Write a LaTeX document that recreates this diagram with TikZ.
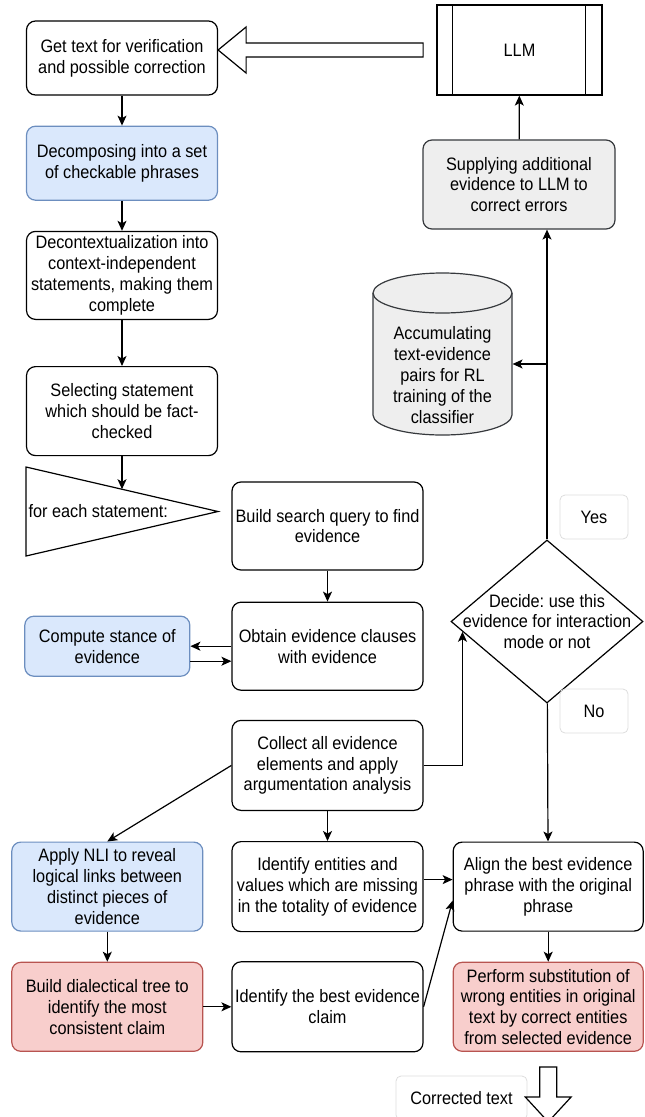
\documentclass[tikz,border=0pt]{standalone}
\usepackage{fontspec}
\setmainfont{Liberation Sans}[FakeStretch=0.905]
\frenchspacing
\usetikzlibrary{arrows.meta,positioning,calc,shapes.geometric}
\definecolor{softblue}{HTML}{DAE8FC}
\definecolor{blueline}{HTML}{6C8EBF}
\definecolor{softred}{HTML}{F8CECC}
\definecolor{redline}{HTML}{B85450}
\definecolor{softgray}{HTML}{EEEEEE}
\definecolor{grayline}{HTML}{36393D}
\definecolor{faintline}{HTML}{DDDDDD}

\begin{document}
\begin{tikzpicture}[
    x=1pt, y=-1pt,
    line width=1.2pt,
    every node/.style={font=\fontsize{18}{20.8}\selectfont, inner sep=2pt},
    box/.style={draw, rounded corners=9pt, align=center, minimum width=191pt, minimum height=89pt},
    bluebox/.style={box, fill=softblue, draw=blueline},
    redbox/.style={box, fill=softred, draw=redline},
    tag/.style={draw=faintline, rounded corners=5pt, line width=0.8pt, minimum width=68pt, minimum height=44pt},
    arr/.style={-{Stealth[length=10pt,width=9pt,inset=2.5pt]}},
    hollow/.style={draw, fill=white, line join=miter}
  ]
    \path[use as bounding box, clip] (0,0) rectangle (645,1117);

    % left column
    \node[box, minimum height=74pt] (get) at (122,58) {Get text for verification\\and possible correction};
    \node[bluebox, minimum height=74pt, below=30pt of get] (decomp) {Decomposing into a set\\of checkable phrases};
    \node[box, minimum height=88pt, below=30pt of decomp] (decontext) {Decontextualization into\\context-independent\\statements, making them\\complete};
    \node[box, below=46pt of decontext] (select) {Selecting statement\\which should be fact-\\checked};

    \coordinate (looptop) at (26,467);
    \coordinate (loopapex) at (218,511.5);
    \coordinate (loopbot) at (26,556);
    \coordinate (loopin) at ($(looptop)!0.5!(loopapex)$);
    \draw (looptop) -- (loopapex) -- (loopbot) -- cycle;
    \node[anchor=west] (looplabel) at (26,511.5) {for each statement:};

    % middle column
    \node[box, minimum height=88pt] (search) at (327.5,526) {Build search query to find\\evidence};
    \node[box, minimum height=88pt, below=31pt of search] (obtain) {Obtain evidence clauses\\with evidence};
    \node[bluebox, minimum width=165pt, minimum height=60pt, left=41pt of obtain] (compute) {Compute stance of\\evidence};
    \node[box, minimum height=90pt, below=29pt of obtain] (collect) {Collect all evidence\\elements and apply\\argumentation analysis};
    \node[box, minimum height=90pt, below=30pt of collect] (entities) {Identify entities and\\values which are missing\\in the totality of evidence};
    \node[box, minimum height=90pt, below=29pt of entities] (best) {Identify the best evidence\\claim};
    \node[bluebox, left=28pt of entities] (nli) {Apply NLI to reveal\\logical links between\\distinct pieces of\\evidence};
    \node[redbox, left=28pt of best] (dial) {Build dialectical tree to\\identify the most\\consistent claim};
    \node[box, minimum width=190pt, right=29pt of entities] (align) {Align the best evidence\\phrase with the original\\phrase};
    \node[redbox, minimum width=190pt, right=29pt of best] (perform) {Perform substitution of\\wrong entities in original\\text by correct entities\\from selected evidence};

    % right column
    \node[draw, minimum width=165pt, minimum height=90pt] (llm) at (519.5,50) {LLM};
    \draw ([xshift=16pt]llm.north west) -- ([xshift=16pt]llm.south west);
    \draw ([xshift=-17pt]llm.north east) -- ([xshift=-17pt]llm.south east);
    \node[box, fill=softgray, draw=grayline, minimum width=192pt] (supply) at (519,184.5) {Supplying additional\\evidence to LLM to\\correct errors};

    \coordinate (dbc) at (442.5,375);
    \draw[fill=softgray, draw=grayline] ($(dbc)+(-69.5,-82)$) -- ($(dbc)+(-69.5,40)$)
      arc[start angle=180, end angle=360, x radius=69.5pt, y radius=20pt]
      -- ($(dbc)+(69.5,-82)$)
      arc[start angle=0, end angle=180, x radius=69.5pt, y radius=20pt] -- cycle;
    \draw[draw=grayline] ($(dbc)+(-69.5,-82)$) arc[start angle=180, end angle=360, x radius=69.5pt, y radius=20pt];
    \node[align=center, minimum width=139pt] (db) at (dbc) {Accumulating\\text-evidence\\pairs for RL\\training of the\\classifier};

    \node[diamond, draw, minimum width=192pt, minimum height=163pt, inner sep=0pt] (decide) at (547,621.5) {};
    \node[align=center] (decidetext) at (decide) {Decide: use this\\evidence for interaction\\mode or not};

    \node[tag] (yes) at (594,517) {Yes};
    \node[tag] (no) at (594,711) {No};
    \node[tag, minimum width=131pt] (corrected) at (461.5,1098) {Corrected text};

    % connectors
    \draw[arr] (get) -- (decomp);
    \draw[arr] (decomp) -- (decontext);
    \draw[arr] (decontext) -- (select);
    \draw[arr] (select) -- (loopin);
    \draw[arr] (search) -- (obtain);
    \draw[arr] (obtain) -- (compute);
    \coordinate (stanceback) at ([yshift=-15pt]compute.east);
    \draw[arr] (stanceback) -- (stanceback -| obtain.west);
    \draw[arr] (collect.west) -- (nli.north);
    \draw[arr] (collect) -- (entities);
    \coordinate (decin) at ($(decide.west)!0.125!(decide.south)$);
    \draw[arr] (collect.east) -| (decin);
    \draw[arr] (decide.north) -- (decide.north |- supply.south);
    \coordinate (fork) at (decide.north |- 0,364);
    \draw[arr] (fork) -- (fork -| db.east);
    \draw[arr] (supply) -- (llm);
    \draw[arr] (decide) -- (align);
    \coordinate (entout) at ([yshift=7pt]entities.east);
    \draw[arr] (entout) -- (entout -| align.west);
    \coordinate (alignin) at ([yshift=-14pt]align.west);
    \draw[arr] (best.east) -- (alignin);
    \draw[arr] (nli) -- (dial);
    \draw[arr] (dial) -- (best);
    \draw[arr] (align) -- (perform);

    % hollow arrows
    \draw[hollow] (get.east |- llm.west) -- ++(28,-23) -- ++(0,16) -- ++(177,0) -- ++(0,14) -- ++(-177,0) -- ++(0,16) -- cycle;
    \draw[hollow] ($(perform.south)+(-8.5,15)$) -- ++(17,0) -- ++(0,30) -- ++(14.5,0) -- ++(-23,25) -- ++(-23,-25) -- ++(14.5,0) -- cycle;
  \end{tikzpicture}
\end{document}
